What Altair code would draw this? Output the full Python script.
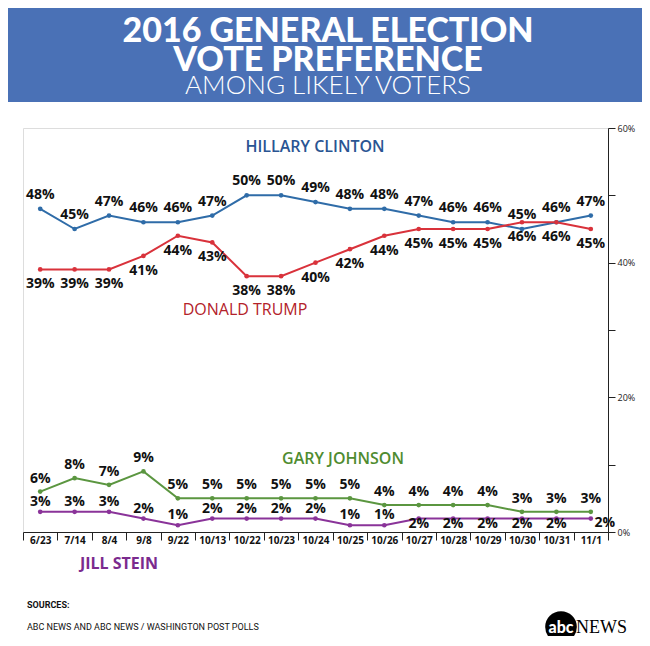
import altair as alt
import pandas as pd

dates = ["6/23", "7/14", "8/4", "9/8", "9/22", "10/13", "10/22", "10/23", "10/24",
         "10/25", "10/26", "10/27", "10/28", "10/29", "10/30", "10/31", "11/1"]
clinton = [48, 45, 47, 46, 46, 47, 50, 50, 49, 48, 48, 47, 46, 46, 45, 46, 47]
trump = [39, 39, 39, 41, 44, 43, 38, 38, 40, 42, 44, 45, 45, 45, 46, 46, 45]
johnson = [6, 8, 7, 9, 5, 5, 5, 5, 5, 5, 4, 4, 4, 4, 3, 3, 3]
stein = [3, 3, 3, 2, 1, 2, 2, 2, 2, 1, 1, 2, 2, 2, 2, 2, 2]

names = ["Clinton", "Trump", "Johnson", "Stein"]
line_colors = ["#2f6ca8", "#d9323b", "#5b9640", "#8a3399"]
title_lines = ["2016 GENERAL ELECTION", "VOTE PREFERENCE", "AMONG LIKELY VOTERS"]

rows = []
for name, vals in zip(names, [clinton, trump, johnson, stein]):
    for i, (d, v) in enumerate(zip(dates, vals)):
        rows.append({"date": d, "idx": i, "candidate": name, "value": v,
                     "label": f"{v}%"})
df = pd.DataFrame(rows)

W, H = 585, 404
LABEL_FONT = "Open Sans"

xenc = alt.X("date:N", sort=dates, bandPosition=0.5,
             scale=alt.Scale(type="band", paddingInner=0, paddingOuter=0),
             axis=alt.Axis(title=None, tickBand="extent", labelAngle=0,
                           labelFontWeight="bold", labelFontSize=10,
                           labelFont=LABEL_FONT, labelColor="#111",
                           tickSize=8, tickColor="#222", domainColor="#222",
                           labelPadding=-5, grid=False))
yenc = alt.Y("value:Q", scale=alt.Scale(domain=[0, 60]),
             axis=alt.Axis(title=None, orient="right", values=list(range(0, 61, 10)),
                           labelExpr="datum.value % 20 == 0 ? datum.value + '%' : ''",
                           labelFontSize=9, labelFont=LABEL_FONT, labelColor="#222",
                           tickSize=7, tickColor="#222", domainColor="#222",
                           labelPadding=2, grid=False))
color = alt.Color("candidate:N", scale=alt.Scale(domain=names, range=line_colors),
                  legend=None)

base = alt.Chart(df)
lines = base.mark_line(strokeWidth=2).encode(x=xenc, y=yenc, color=color, detail="candidate:N")
pts = base.mark_circle(size=22, opacity=1).encode(x=xenc, y=yenc, color=color)


def labels(name, dy, cond=None, dx=0):
    c = base.transform_filter(alt.datum.candidate == name)
    if cond is not None:
        c = c.transform_filter(cond)
    return c.mark_text(font=LABEL_FONT, fontWeight="bold", fontSize=14, dy=dy, dx=dx,
                       color="#111").encode(x=alt.X("date:N", sort=dates, bandPosition=0.5),
                                            y="value:Q", text="label:N")


lab_c = labels("Clinton", -14)
lab_t = labels("Trump", 15)
lab_j = labels("Johnson", -13)
lab_s1 = labels("Stein", -10, alt.datum.idx <= 10)
lab_s2 = labels("Stein", 5, (alt.datum.idx > 10) & (alt.datum.idx < 16))
lab_s3 = labels("Stein", 4, alt.datum.idx == 16, dx=14)

one = alt.Data(values=[{}])


def txt(s, x, y, **kw):
    return alt.Chart(one).mark_text(**kw).encode(x=alt.value(x), y=alt.value(y),
                                                 text=alt.value(s))


header = alt.Chart(one).mark_rect(color="#4a71b6").encode(
    x=alt.value(-15), x2=alt.value(619), y=alt.value(-120), y2=alt.value(-26))
t1 = txt(title_lines[0], 305, -86, font="Lato", fontWeight=900, fontSize=34,
         color="white", align="center", baseline="alphabetic")
t2 = txt(title_lines[1], 305, -57, font="Lato", fontWeight=900, fontSize=34,
         color="white", align="center", baseline="alphabetic")
t3 = txt(title_lines[2], 305, -34, font="Lato", fontWeight=300, fontSize=26,
         color="white", align="center", baseline="alphabetic")

n_c = txt("HILLARY CLINTON", 292, 19, font=LABEL_FONT, fontWeight=600, fontSize=16,
          color="#2a5593", align="center", baseline="middle")
n_t = txt("DONALD TRUMP", 222, 182, font=LABEL_FONT, fontWeight=500, fontSize=16,
          color="#b3222a", align="center", baseline="middle")
n_j = txt("GARY JOHNSON", 320, 331, font=LABEL_FONT, fontWeight=600, fontSize=16,
          color="#4f8c30", align="center", baseline="middle")
n_s = txt("JILL STEIN", 96, 436, font=LABEL_FONT, fontWeight=700, fontSize=16,
          color="#7b2a8e", align="center", baseline="middle")

src1 = txt("SOURCES:", 4, 477, font="Roboto", fontWeight="bold",
           fontSize=9, color="#111", align="left", baseline="middle")
src2 = txt("ABC NEWS AND ABC NEWS / WASHINGTON POST POLLS", 4, 499,
           font="Roboto", fontSize=9, color="#111", align="left",
           baseline="middle")
logo_c = alt.Chart(one).mark_circle(color="black", opacity=1, size=1000).encode(
    x=alt.value(538), y=alt.value(499))
logo_abc = txt("abc", 538, 500, font="Lato", fontWeight=900, fontSize=16,
               color="white", align="center", baseline="middle")
logo_news = txt("NEWS", 553, 500, font="Liberation Serif", fontSize=18,
                color="black", align="left", baseline="middle")

chart = alt.layer(
    header, t1, t2, t3, lines, pts, lab_c, lab_t, lab_j, lab_s1, lab_s2, lab_s3,
    n_c, n_t, n_j, n_s, src1, src2, logo_c, logo_abc, logo_news
).properties(
    width=W, height=H,
    padding={"left": 15, "top": 120, "right": 34, "bottom": 104},
    autosize=alt.AutoSizeParams(type="none"),
).configure_view(stroke=None).configure(background="white")

chart.save("out.html", embed_options={"renderer": "svg", "actions": False})
